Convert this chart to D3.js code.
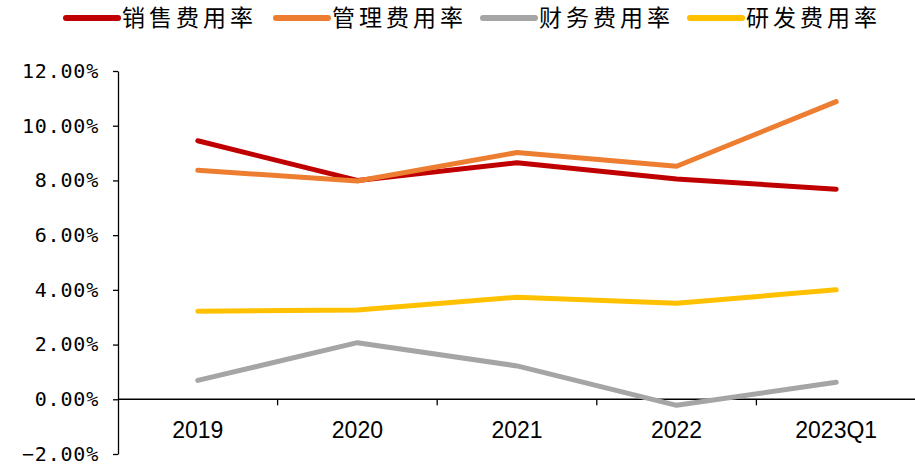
<!DOCTYPE html>
<html>
<head>
<meta charset="utf-8">
<script src="https://cdn.jsdelivr.net/npm/d3@7"></script>
<style>
  html, body { margin: 0; padding: 0; background: #fff; }
  svg { display: block; }
</style>
</head>
<body>
<svg id="chart" width="915" height="465"></svg>
<script>
const categories = ["2019", "2020", "2021", "2022", "2023Q1"];
const seriesNames = ["销售费用率", "管理费用率", "财务费用率", "研发费用率"];
const seriesColors = ["#C00000", "#ED7D31", "#A5A5A5", "#FFC000"];
const salesRate = [9.45, 8.0, 8.65, 8.05, 7.68];
const adminRate = [8.37, 7.98, 9.02, 8.52, 10.88];
const financeRate = [0.69, 2.07, 1.22, -0.22, 0.62];
const rdRate = [3.22, 3.26, 3.73, 3.51, 4.0];
const yTicks = [-2, 0, 2, 4, 6, 8, 10, 12];

const seriesValues = [salesRate, adminRate, financeRate, rdRate];

const svg = d3.select("#chart");
const plotLeft = 118, plotRight = 916, plotTop = 71, plotBottom = 454;

const x = d3.scaleBand().domain(categories).range([plotLeft, plotRight]);
const y = d3.scaleLinear().domain([-2, 12]).range([plotBottom, plotTop]);

// Y axis
const yAxis = d3.axisLeft(y)
  .tickValues(yTicks)
  .tickSize(5)
  .tickSizeOuter(0)
  .tickPadding(14)
  .tickFormat(d => d3.format(".2f")(d) + "%");
const gy = svg.append("g").attr("transform", `translate(${plotLeft},0)`).call(yAxis);
gy.select(".domain").attr("stroke", "#000").attr("stroke-width", 1.3);
gy.selectAll(".tick line").attr("stroke", "#000").attr("stroke-width", 1.3);
gy.selectAll(".tick text")
  .attr("fill", "#000")
  .style("font-family", "'DejaVu Sans Mono', monospace")
  .style("font-size", "20px")
  .style("letter-spacing", "0.8px");

// X axis at zero
const y0 = y(0);
const gx = svg.append("g");
gx.append("line")
  .attr("x1", plotLeft).attr("x2", plotRight)
  .attr("y1", y0).attr("y2", y0)
  .attr("stroke", "#000").attr("stroke-width", 1.5);
gx.selectAll("line.tk")
  .data(categories.slice(1))
  .enter().append("line")
  .attr("class", "tk")
  .attr("x1", d => x(d)).attr("x2", d => x(d))
  .attr("y1", y0).attr("y2", y0 + 6)
  .attr("stroke", "#000").attr("stroke-width", 1.3);
gx.selectAll("text")
  .data(categories)
  .enter().append("text")
  .attr("x", d => x(d) + x.bandwidth() / 2)
  .attr("y", y0 + 39)
  .attr("text-anchor", "middle")
  .style("font-family", "'Liberation Sans Narrow', 'Liberation Sans', Arial, sans-serif")
  .style("font-size", "23px")
  .attr("fill", "#000")
  .text(d => d);

// Lines
const line = d3.line()
  .x((d, i) => x(categories[i]) + x.bandwidth() / 2)
  .y(d => y(d));

seriesValues.forEach((vals, k) => {
  svg.append("path")
    .datum(vals)
    .attr("d", line)
    .attr("fill", "none")
    .attr("stroke", seriesColors[k])
    .attr("stroke-width", 5)
    .attr("stroke-linecap", "round")
    .attr("stroke-linejoin", "round");
});

// Legend
const legendX = [64, 274, 481, 688];
const lg = svg.append("g");
seriesNames.forEach((name, k) => {
  const g = lg.append("g").attr("transform", `translate(${legendX[k]},18)`);
  g.append("line")
    .attr("x1", 2).attr("x2", 54)
    .attr("y1", 0).attr("y2", 0)
    .attr("stroke", seriesColors[k])
    .attr("stroke-width", 6)
    .attr("stroke-linecap", "round");
  g.append("text")
    .attr("x", 58)
    .attr("y", 0)
    .attr("dy", "0.36em")
    .style("font-family", "'Noto Sans CJK SC', sans-serif")
    .style("font-size", "23px")
    .style("letter-spacing", "4px")
    .attr("fill", "#000")
    .text(name);
});
</script>
</body>
</html>
